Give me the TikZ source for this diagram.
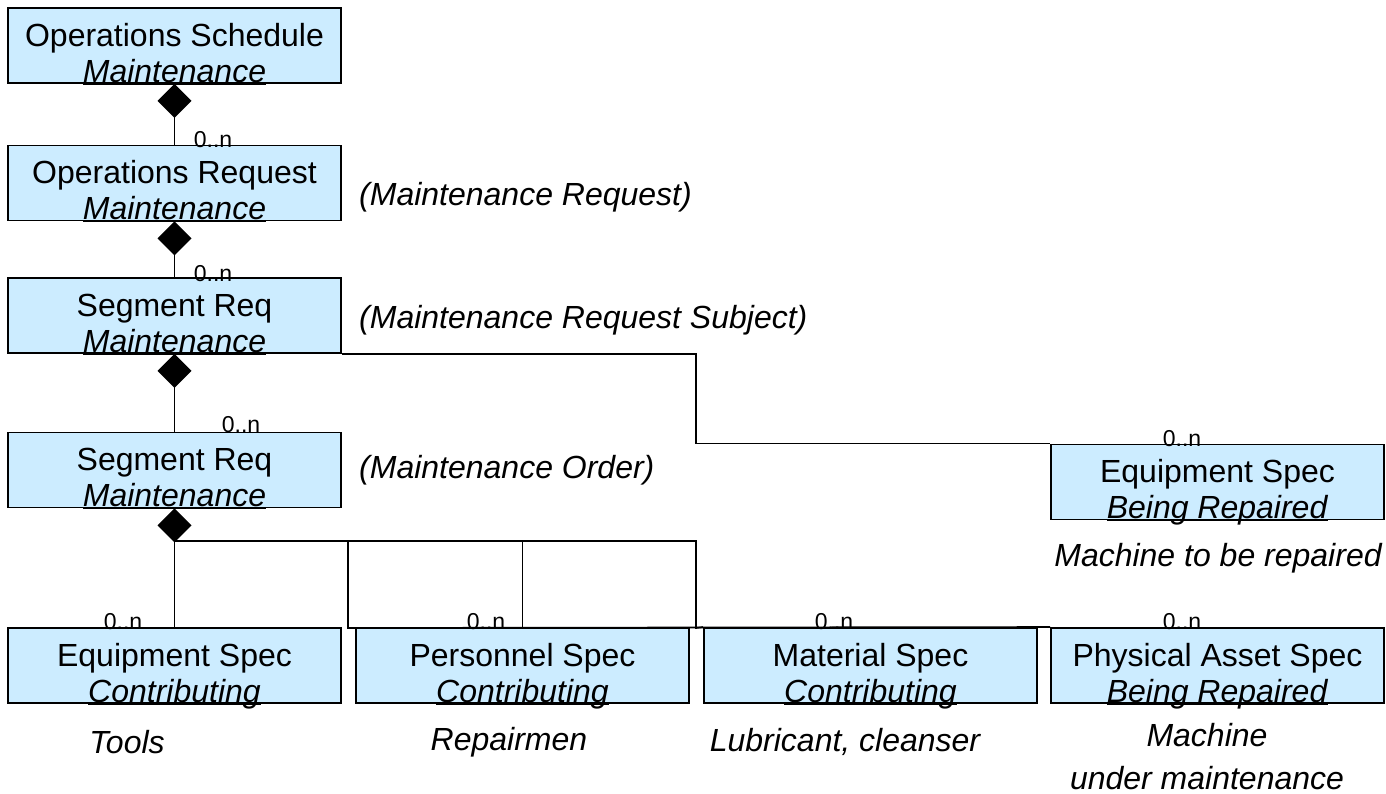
\documentclass[tikz,border=0pt]{standalone}
\usepackage{fontspec}
\setmainfont{Liberation Sans}
\usepackage{tikz}
\usetikzlibrary{arrows.meta,calc}
\definecolor{specblue}{RGB}{204,236,255}
\newsavebox{\ulbox}
\newcommand{\baseul}[1]{\sbox{\ulbox}{#1}\rlap{\rule[-2.6pt]{\wd\ulbox}{1pt}}\usebox{\ulbox}}

\tikzset{
  boxtext/.style={font=\fontsize{32}{36}\selectfont, align=center, inner sep=0pt, yshift=-11.5pt},
  spec/.style 2 args={draw, line width=1.9pt, fill=specblue, minimum width=333pt, minimum height=75pt,
    inner sep=0pt, label={[boxtext]center:{\strut #1\\\strut\baseul{\textit{#2}}}}},
  link/.style={line width=1.7pt},
  agg/.style={link, {Diamond[length=34pt,width=34pt]}-},
  card/.style={font=\fontsize{23}{24}\selectfont, inner sep=0pt, anchor=base},
  note/.style={font=\itshape\fontsize{32}{43}\selectfont, inner sep=0pt, align=center}
}

\begin{document}
\begin{tikzpicture}[x=1pt,y=-1pt]
\useasboundingbox (0,0) rectangle (1386,794);

% Maintenance chain
\node[spec={Operations Schedule}{Maintenance}] (sched) at (174.5,45.5) {};
\node[spec={Operations Request}{Maintenance}] (req) at (174.5,183) {};
\node[spec={Segment Req}{Maintenance}] (seg) at (174.5,315.5) {};
\node[spec={Segment Req}{Maintenance}] (ordr) at (174.5,470) {};

% Specifications
\node[spec={Equipment Spec}{Being Repaired}] (eqrep) at (1217.5,482) {};
\node[spec={Equipment Spec}{Contributing}] (eqc) at (174.5,665.5) {};
\node[spec={Personnel Spec}{Contributing}] (perc) at (522.5,665.5) {};
\node[spec={Material Spec}{Contributing}] (matc) at (870.5,665.5) {};
\node[spec={Physical Asset Spec}{Being Repaired}] (phys) at (1217.5,665.5) {};

% Side notes
\node[note, anchor=west] (reqnote) at (359,197) {(Maintenance Request)};
\node[note, anchor=west] (segnote) at (359,320) {(Maintenance Request Subject)};
\node[note, anchor=west] (ordnote) at (359,470) {(Maintenance Order)};
\node[note] (eqrepnote) at (1218,558) {Machine to be repaired};
\node[note] (eqcnote) at (127,742) {Tools};
\node[note] (percnote) at (509,742) {Repairmen};
\node[note] (matcnote) at (845,742) {Lubricant, cleanser};
\node[note] (physnote) at (1207,757) {Machine\\under maintenance};

% Aggregations
\draw[agg] (sched.south) -- (req.north);
\draw[agg] (req.south) -- (seg.north);
\draw[agg] (seg.south) -- (ordr.north);

\coordinate (turn) at (696,400);
\draw[link] (seg.south east) -| (turn) |- (eqrep.north west);

\coordinate (hub) at (174.5,541);
\coordinate (dropAB) at (348,628);
\coordinate (dropBC) at (696,628);
\draw[agg] (ordr.south) -- (hub);
\draw[link] (hub) -- (eqc.north);
\draw[link] (hub) -| (perc.north);
\draw[link] (hub) -| (dropAB) -- (phys.north west);
\draw[link] (hub) -| (dropBC) -- (matc.north west);

% Cardinalities
\node[card] (c1) at (213,148) {0..n};
\node[card] (c2) at (213,281) {0..n};
\node[card] (c3) at (241,432) {0..n};
\node[card] (c4) at (1182,446) {0..n};
\node[card] (c5) at (123,629) {0..n};
\node[card] (c6) at (486,629) {0..n};
\node[card] (c7) at (834,629) {0..n};
\node[card] (c8) at (1182,629) {0..n};

\end{tikzpicture}
\end{document}
